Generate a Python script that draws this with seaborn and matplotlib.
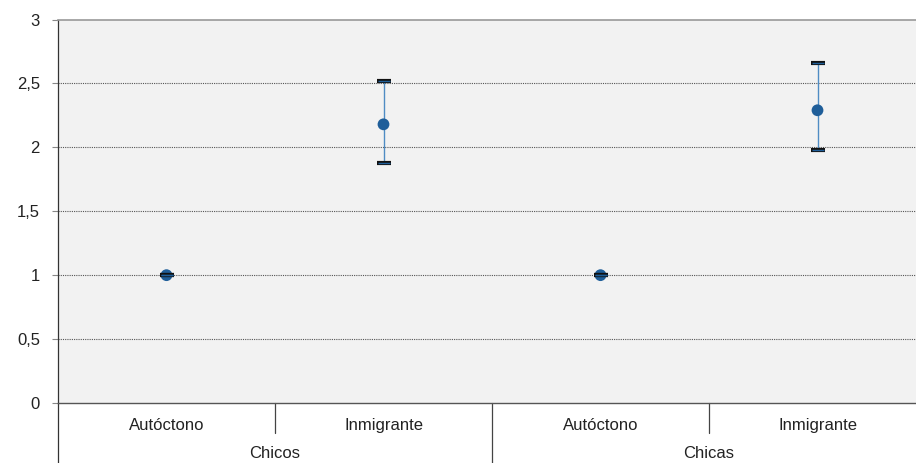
import numpy as np
import pandas as pd
import matplotlib
matplotlib.use("Agg")
import matplotlib.pyplot as plt
import matplotlib.transforms as mtransforms
import seaborn as sns

# Odds ratios with 95% confidence intervals, by sex and origin
groups = ["Chicos", "Chicos", "Chicas", "Chicas"]
origins = ["Autóctono", "Inmigrante", "Autóctono", "Inmigrante"]
odds = [1.0, 2.18, 1.0, 2.29]
ci_low = [1.0, 1.88, 1.0, 1.98]
ci_high = [1.0, 2.52, 1.0, 2.66]
group_names = ["Chicos", "Chicas"]
y_ticks = [0, 0.5, 1, 1.5, 2, 2.5, 3]
y_tick_labels = ["0", "0,5", "1", "1,5", "2", "2,5", "3"]

df = pd.DataFrame({"grupo": groups, "origen": origins,
                   "or": odds, "lo": ci_low, "hi": ci_high})
df["clave"] = df["grupo"] + " | " + df["origen"]

sns.set_theme(style="white")
plt.rcParams["font.family"] = ["Liberation Sans", "DejaVu Sans"]

W, H = 916, 463
fig = plt.figure(figsize=(W / 100, H / 100), dpi=100)
ax = fig.add_axes([58 / W, 60 / H, 868 / W, 383.5 / H])
ax.set_facecolor("#F2F2F2")

point_color = "#1F5E99"
whisker_color = "#4F8CC4"
fs = 12

sns.scatterplot(data=df, x="clave", y="or", ax=ax, s=72, color=point_color,
                edgecolor="none", zorder=3, legend=False)

pos = np.arange(len(df))
err = [df["or"] - df["lo"], df["hi"] - df["or"]]
# whiskers behind the points
ax.errorbar(pos, df["or"], yerr=err, fmt="none", ecolor=whisker_color,
            elinewidth=1.0, capsize=0, zorder=2)
# caps: dark outline with a blue core, drawn above the points
ax.errorbar(pos, df["or"], yerr=err, fmt="none", ecolor="#111111",
            elinewidth=0, capsize=4.8, capthick=3.0, zorder=4)
ax.errorbar(pos, df["or"], yerr=err, fmt="none", ecolor=point_color,
            elinewidth=0, capsize=4.0, capthick=1.0, zorder=5)

ax.set_xlim(-0.5, len(df) - 0.5)
ax.set_ylim(0, 3)
ax.set_yticks(y_ticks)
ax.set_yticklabels(y_tick_labels)
ax.set_xticks(pos)
ax.set_xticklabels(df["origen"])
ax.set_xlabel("")
ax.set_ylabel("")

for yv in y_ticks[1:-1]:
    ax.axhline(yv, color="#555555", linewidth=0.8, linestyle=(0, (1, 1)), zorder=1)

ax.tick_params(axis="y", which="both", left=True, length=4, width=0.8,
               color="#888888", labelsize=fs, labelcolor="#222222", pad=9)
ax.tick_params(axis="x", which="both", bottom=False, length=0,
               labelsize=fs, labelcolor="#222222", pad=11)

for side in ["left", "bottom", "top", "right"]:
    ax.spines[side].set_visible(True)
ax.spines["top"].set_color("#999999")
ax.spines["top"].set_linewidth(1.2)
ax.spines["right"].set_visible(False)
ax.spines["bottom"].set_color("#555555")
ax.spines["bottom"].set_linewidth(1.0)
ax.spines["left"].set_color("#333333")
ax.spines["left"].set_linewidth(0.9)

# category separators below the axis
trans = mtransforms.blended_transform_factory(ax.transData, fig.transFigure)
sep_color = "#444444"
for i in range(len(df) - 1):
    x = i + 0.5
    same_group = df["grupo"][i] == df["grupo"][i + 1]
    y_end = 30 / H if same_group else 0
    ax.plot([x, x], [60 / H, y_end], transform=trans, color=sep_color,
            linewidth=0.9, clip_on=False)
ax.plot([-0.5, -0.5], [60 / H, 0], transform=trans, color="#333333",
        linewidth=0.9, clip_on=False)

# group labels
for g in group_names:
    centre = pos[df["grupo"] == g].mean()
    ax.text(centre, 10 / H, g, transform=trans, ha="center", va="center",
            fontsize=fs, color="#222222")

fig.savefig("out.png", dpi=100)
